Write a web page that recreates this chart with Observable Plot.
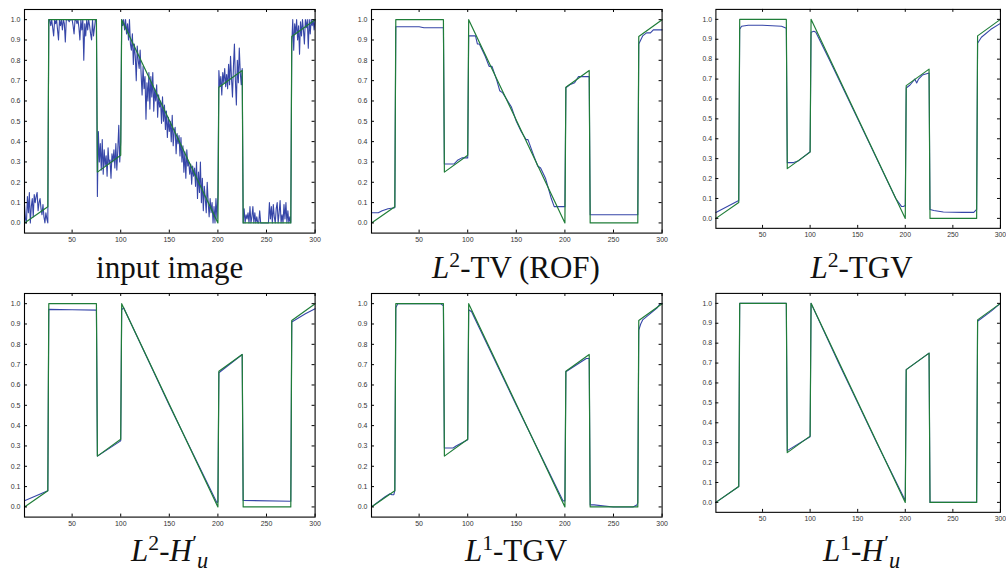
<!DOCTYPE html>
<html><head><meta charset="utf-8">
<script src="https://cdn.jsdelivr.net/npm/d3@7"></script>
<script src="https://cdn.jsdelivr.net/npm/@observablehq/plot@0.6"></script>
<style>
html,body{margin:0;padding:0;background:#fff;width:1006px;height:572px;overflow:hidden;position:relative}
.panel{position:absolute}
.panel svg{overflow:visible}
.cap{position:absolute;font-family:"Liberation Serif","DejaVu Serif",serif;font-size:31px;color:#111;white-space:nowrap;transform:translateX(-50%);line-height:1}
.cap sup{font-size:0.7em;vertical-align:0.5em;line-height:0}
.cap .pr{font-size:0.7em;vertical-align:0.5em;line-height:0;margin-left:0.02em}
.cap .sb{font-size:0.72em;vertical-align:-0.32em;line-height:0;margin-left:0;font-style:italic}
</style></head><body>
<script>
// ---------- data ----------
const xTicks = [50, 100, 150, 200, 250, 300];
const yTicks = [0, 0.1, 0.2, 0.3, 0.4, 0.5, 0.6, 0.7, 0.8, 0.9, 1];

// noisy input signal, samples 1..300
const noisy = [
0.09,0.02,0.0,0.13,0.05,0.15,0.0,0.08,0.12,0.03,0.14,0.1,0.13,0.15,0.06,0.1,0.12,0.07,0.04,0.09,0.03,0.0,0.05,0.02,0.0,
1,1,0.97,1,0.96,0.92,1,0.98,1,0.95,0.9,1,0.97,1,0.95,1,0.98,0.89,1,1,1,0.99,1,1,1,0.97,0.93,1,1,0.98,1,0.96,0.9,1,0.95,1,0.8,0.98,0.92,1,0.95,1,0.97,0.93,0.9,1,0.92,0.96,1,1,
0.13,0.45,0.3,0.39,0.26,0.41,0.24,0.36,0.28,0.33,0.23,0.37,0.29,0.31,0.22,0.34,0.3,0.36,0.27,0.39,0.26,0.36,0.48,0.3,0.4,
1.0,0.97,1.0,0.95,1.0,0.93,0.98,0.9,1.0,0.88,
0.85,0.93,0.78,0.88,0.82,0.7,0.87,0.8,0.76,0.85,
0.73,0.63,0.77,0.66,0.72,0.51,0.69,0.6,0.74,0.56,
0.72,0.62,0.74,0.55,0.66,0.6,0.68,0.52,0.63,0.57,
0.6,0.49,0.62,0.5,0.58,0.46,0.55,0.42,0.52,0.45,
0.5,0.4,0.53,0.38,0.45,0.47,0.34,0.44,0.39,0.43,
0.33,0.42,0.3,0.38,0.25,0.35,0.22,0.36,0.28,0.3,
0.24,0.29,0.19,0.28,0.23,0.27,0.18,0.3,0.12,0.25,
0.15,0.3,0.1,0.22,0.06,0.18,0.12,0.05,0.2,0.1,
0.03,0.12,0.05,0.1,0.0,0.08,0.0,0.12,0.02,0.14,
0.75,0.67,0.72,0.63,0.74,0.69,0.76,0.67,0.73,0.66,0.78,0.68,0.82,0.71,0.62,0.77,0.88,0.7,0.58,0.8,0.69,0.86,0.74,0.68,0.76,
0,0.07,0,0.04,0.02,0.05,0,0.08,0,0.03,0.08,0,0.05,0,0.03,0,0,0.06,0,0,0,0,0,0,0,0,0,0.1,0.02,0.08,0,0.09,0.03,0,0.07,0.1,0,0.05,0.11,0,0.04,0,0.09,0.02,0.1,0,0.06,0,0.03,0,
0.88,1,0.85,0.98,0.93,1,0.9,0.97,0.83,0.99,0.92,1,0.95,0.88,1,0.96,1,0.86,1,0.93,1,0.97,1,0.95,1
];

// ground truth (green), breakpoints
const truthX = [1, 25, 26, 75, 76, 100, 101, 200, 201, 225, 226, 275, 276, 300];
const truthY = [0, 0.08, 1, 1, 0.25, 0.333, 1, 0, 0.667, 0.75, 0, 0, 0.917, 1];

// L2-TV (ROF)
const rofX = [1,8,12,18,25,26,50,55,75,76,86,90,94,100,101,108,110,112,118,122,125,130,133,136,145,150,155,160,162,168,172,175,180,186,189,200,201,205,210,214,225,226,275,276,280,284,288,291,300];
const rofY = [0.05,0.05,0.06,0.07,0.075,0.965,0.965,0.96,0.96,0.29,0.29,0.31,0.32,0.32,0.92,0.92,0.88,0.88,0.82,0.77,0.77,0.7,0.65,0.64,0.57,0.5,0.45,0.41,0.41,0.33,0.28,0.27,0.22,0.12,0.08,0.08,0.665,0.68,0.69,0.72,0.72,0.04,0.04,0.88,0.92,0.935,0.935,0.95,0.95];

// L2-TGV
const tgv2X = [1,25,26,28,35,50,70,75,76,82,88,100,101,104,106,120,150,190,196,198,200,201,205,210,212,214,218,225,226,230,240,260,272,275,276,280,290,300];
const tgv2Y = [0.03,0.09,0.95,0.965,0.97,0.97,0.965,0.955,0.28,0.28,0.29,0.335,0.935,0.94,0.935,0.8,0.5,0.1,0.06,0.06,0.065,0.655,0.67,0.7,0.68,0.7,0.72,0.73,0.045,0.04,0.032,0.03,0.03,0.045,0.88,0.91,0.95,0.98];

// L2-H'u
const h2X = [1,25,26,50,75,76,100,101,103,150,199,200,201,225,226,275,276,290,300];
const h2Y = [0.03,0.08,0.972,0.97,0.968,0.25,0.325,0.97,0.98,0.5,0.02,0.025,0.66,0.75,0.032,0.028,0.91,0.95,0.975];

// L1-TGV
const tgv1X = [1,15,20,22,24,25,26,28,72,75,76,85,88,100,101,104,108,150,196,198,200,201,222,225,226,230,250,270,274,275,276,278,280,285,295,298,300];
const tgv1Y = [0,0.05,0.065,0.06,0.06,0.08,0.98,1,1,0.99,0.29,0.29,0.3,0.33,0.97,0.96,0.92,0.5,0.05,0.03,0.03,0.665,0.73,0.73,0.01,0.01,0,0,0.01,0.02,0.87,0.9,0.92,0.94,0.98,1,1];

// L1-H'u
const h1X = [1,25,26,75,76,100,101,130,150,170,200,201,225,226,275,276,290,300];
const h1Y = [0,0.08,1,1,0.26,0.33,1,0.7,0.5,0.3,0.01,0.667,0.75,0,0,0.91,0.96,1];

const captions = [
  'input image',
  '<i>L</i><sup>2</sup>-TV (ROF)',
  '<i>L</i><sup>2</sup>-TGV',
  '<i>L</i><sup>2</sup>-<i>H</i><span class="pr">′</span><span class="sb">u</span>',
  '<i>L</i><sup>1</sup>-TGV',
  '<i>L</i><sup>1</sup>-<i>H</i><span class="pr">′</span><span class="sb">u</span>'
];

// ---------- build ----------
const zip = (xs, ys) => xs.map((x, i) => ({x, y: ys[i]}));
const truth = zip(truthX, truthY);
const blues = [
  noisy.map((y, i) => ({x: i + 1, y})),
  zip(rofX, rofY),
  zip(tgv2X, tgv2Y),
  zip(h2X, h2Y),
  zip(tgv1X, tgv1Y),
  zip(h1X, h1Y)
];

const BLUE = "#3646a8", GREEN = "#1f7d38";
const FW = 290.6, FH = 223.6;
const mL = 28, mR = 6, mT = 4, mB = 14;
const colLeft = [24.4, 370.7, 716.2];
const rowTop = [9.1, 292.5];
const capBase = [278, 560.5];

blues.forEach((blue, k) => {
  const r = Math.floor(k / 3), c = k % 3;
  const chart = Plot.plot({
    width: FW + mL + mR, height: FH + mT + mB,
    marginLeft: mL, marginRight: mR, marginTop: mT, marginBottom: mB,
    x: {domain: [1, 300], label: null},
    y: {domain: [-0.05, 1.05], label: null},
    style: {fontFamily: "'Liberation Sans', Arial, sans-serif", fontSize: "7px", color: "#333", background: "transparent"},
    marks: [
      Plot.line(blue, {x: "x", y: "y", stroke: BLUE, strokeWidth: 1.1}),
      Plot.line(truth, {x: "x", y: "y", stroke: GREEN, strokeWidth: 1.2}),
      Plot.tickY(yTicks, {y: d => d, insetRight: FW - 3, stroke: "#000"}),
      Plot.tickY(yTicks, {y: d => d, insetLeft: FW - 3, stroke: "#000"}),
      Plot.tickX(xTicks, {x: d => d, insetBottom: FH - 3, stroke: "#000"}),
      Plot.tickX(xTicks, {x: d => d, insetTop: FH - 3, stroke: "#000"}),
      Plot.frame({stroke: "#000", strokeWidth: 1.1}),
      Plot.axisY(yTicks, {tickSize: 0, tickPadding: 4, label: null}),
      Plot.axisX(xTicks, {tickSize: 0, tickPadding: 4, label: null})
    ]
  });
  const div = document.createElement("div");
  div.className = "panel";
  div.style.left = (colLeft[c] - mL) + "px";
  div.style.top = (rowTop[r] - mT) + "px";
  div.appendChild(chart);
  document.body.appendChild(div);

  const cap = document.createElement("div");
  cap.className = "cap";
  cap.innerHTML = captions[k];
  cap.style.left = (colLeft[c] + FW / 2) + "px";
  cap.style.top = (capBase[r] - 26) + "px";
  document.body.appendChild(cap);
});
</script>
</body></html>
